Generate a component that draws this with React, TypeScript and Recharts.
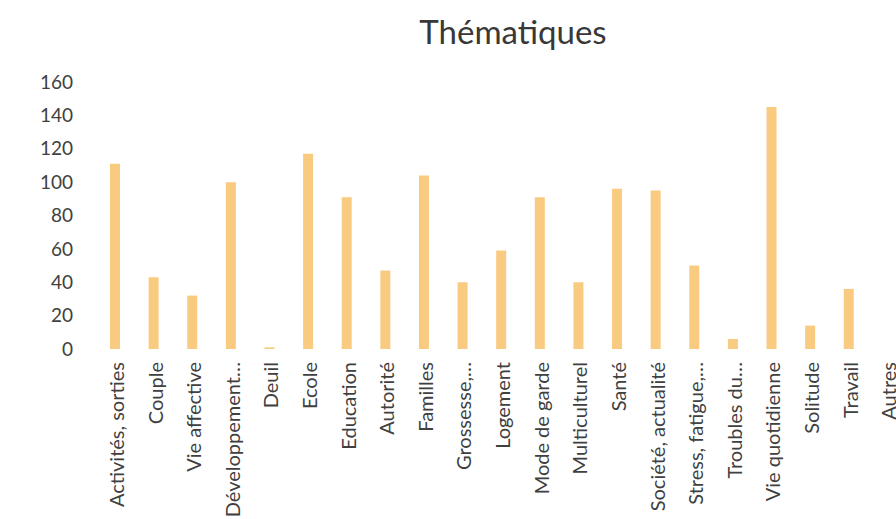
import { Bar, BarChart, XAxis, YAxis } from "recharts";

const categories = [
  "Activités, sorties",
  "Couple",
  "Vie affective",
  "Développement…",
  "Deuil",
  "Ecole",
  "Education",
  "Autorité",
  "Familles",
  "Grossesse,…",
  "Logement",
  "Mode de garde",
  "Multiculturel",
  "Santé",
  "Société, actualité",
  "Stress, fatigue,…",
  "Troubles du…",
  "Vie quotidienne",
  "Solitude",
  "Travail",
  "Autres",
];

const counts = [111, 43, 32, 100, 1, 117, 91, 47, 104, 40, 59, 91, 40, 96, 95, 50, 6, 145, 14, 36, 0];

const yTicks = [0, 20, 40, 60, 80, 100, 120, 140, 160];

const data = categories.map((name, i) => ({ name, value: counts[i] }));

const font = "Lato, 'Open Sans', sans-serif";
const ink = "#404040";

function RotatedTick({ x, y, payload }: any) {
  return (
    <text
      x={x}
      y={y}
      transform={`rotate(-90, ${x}, ${y})`}
      textAnchor="end"
      dy="0.43em"
      fill={ink}
      fontSize={20}
      fontFamily={font}
    >
      {payload.value}
    </text>
  );
}

export default function App() {
  return (
    <div style={{ position: "absolute", left: 0, top: 0, width: 896, height: 519, overflow: "hidden", background: "#fff" }}>
      <div style={{ position: "absolute", left: 0, top: 11, width: 1026, textAlign: "center", fontFamily: font, fontSize: 33, lineHeight: "40px", color: "#383838" }}>
        Thématiques
      </div>
      <BarChart width={930} height={519} data={data} margin={{ top: 82, right: 23, bottom: 0, left: 0 }}>
        <XAxis dataKey="name" interval={0} axisLine={false} tickLine={false} height={170} tickMargin={7} tick={<RotatedTick />} />
        <YAxis
          domain={[0, 160]}
          ticks={yTicks}
          width={96}
          axisLine={false}
          tickLine={false}
          tickMargin={17}
          tick={{ fill: ink, fontSize: 19, fontFamily: font }}
        />
        <Bar dataKey="value" fill="#F9CB80" barSize={10} isAnimationActive={false} />
      </BarChart>
    </div>
  );
}
